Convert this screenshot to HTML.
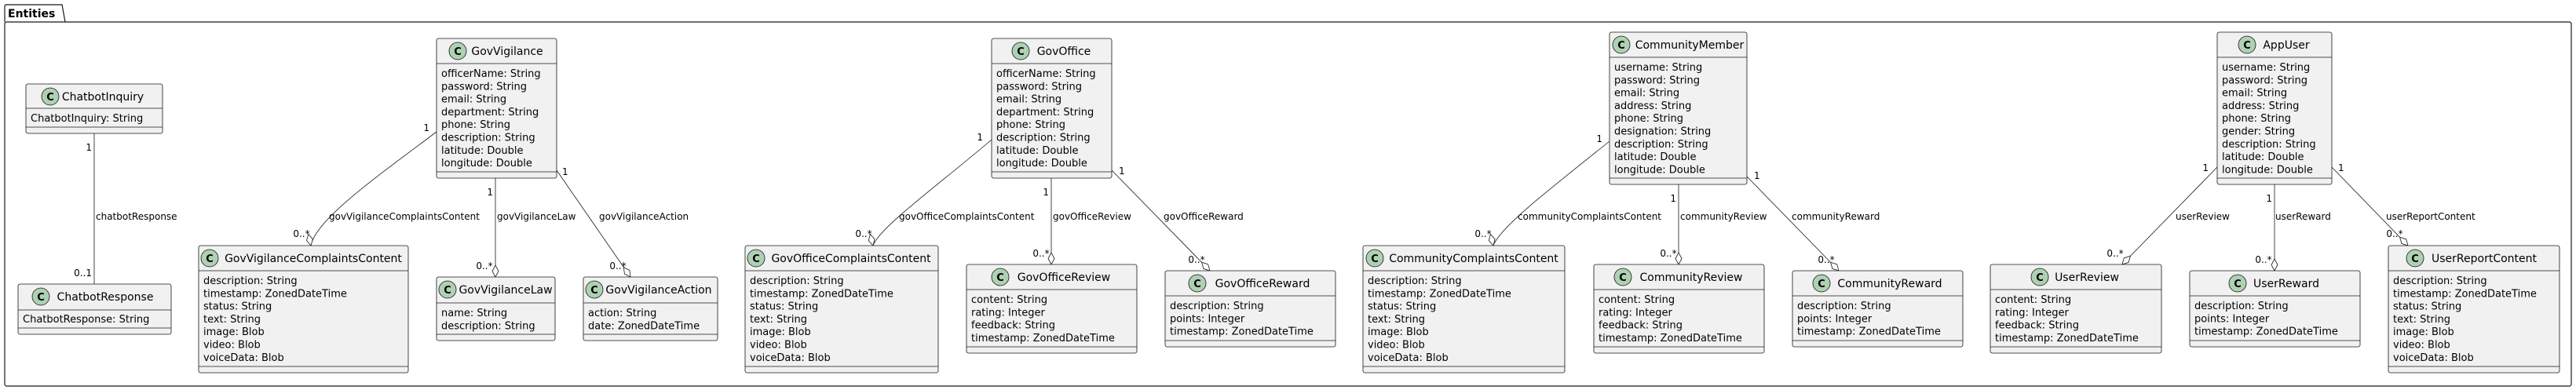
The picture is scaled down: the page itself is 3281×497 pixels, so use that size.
<!DOCTYPE html>
<html><head><meta charset="utf-8"><style>
html,body{margin:0;padding:0;background:#fff;}
svg{display:block;}
.box{fill:#F1F1F1;stroke:#181818;stroke-width:0.8;}
.ln{stroke:#181818;stroke-width:0.8;fill:none;}
.cn{font-family:"DejaVu Sans","Liberation Sans",sans-serif;font-size:14px;fill:#000;text-anchor:middle;}
.at{font-family:"DejaVu Sans","Liberation Sans",sans-serif;font-size:13px;fill:#000;}
.lb{font-family:"DejaVu Sans","Liberation Sans",sans-serif;font-size:12px;fill:#000;}
.ci{fill:#ADD1B2;stroke:#181818;stroke-width:0.8;}
.cc{font-family:"DejaVu Sans","Liberation Sans",sans-serif;font-size:13px;font-weight:bold;fill:#000;text-anchor:middle;}
.dm{fill:#fff;stroke:#181818;stroke-width:0.8;}
</style></head><body>
<svg width="3281" height="497" viewBox="0 0 3281 497" xmlns="http://www.w3.org/2000/svg">
<!-- package -->
<path d="M6,28 L6,8 Q6,6 8,6 L79,6 L83,28" fill="none" stroke="#181818" stroke-width="1.2"/>
<rect x="6" y="28" width="3269" height="464" rx="2.5" fill="none" stroke="#181818" stroke-width="1.2"/>
<text x="10" y="22" font-family="DejaVu Sans,Liberation Sans,sans-serif" font-size="14" font-weight="bold">Entities</text>

<!-- edges -->
<line class="ln" x1="120" y1="170" x2="120" y2="362"/>
<text class="lb" x="117" y="192" text-anchor="end">1</text>
<text class="lb" x="122" y="280">chatbotResponse</text>
<text class="lb" x="117" y="352" text-anchor="end">0..1</text>

<path class="ln" d="M556,168 C480,225 402,280 396,313"/>
<text class="lb" x="547" y="167" text-anchor="end">1</text>
<text class="lb" x="419" y="280">govVigilanceComplaintsContent</text>
<text class="lb" x="384" y="302" text-anchor="middle">0..*</text>
<line class="ln" x1="631" y1="227" x2="631" y2="353"/>
<text class="lb" x="628" y="249" text-anchor="end">1</text>
<text class="lb" x="633" y="280">govVigilanceLaw</text>
<text class="lb" x="617" y="343" text-anchor="middle">0..*</text>
<line class="ln" x1="709" y1="217" x2="803" y2="353"/>
<text class="lb" x="716" y="223">1</text>
<text class="lb" x="763" y="280">govVigilanceAction</text>
<text class="lb" x="787" y="343" text-anchor="middle">0..*</text>

<path class="ln" d="M1263,178 C1190,240 1120,290 1112,313"/>
<text class="lb" x="1252" y="179" text-anchor="end">1</text>
<text class="lb" x="1145" y="280">govOfficeComplaintsContent</text>
<text class="lb" x="1100" y="302" text-anchor="middle">0..*</text>
<line class="ln" x1="1339" y1="227" x2="1339" y2="337"/>
<text class="lb" x="1336" y="249" text-anchor="end">1</text>
<text class="lb" x="1341" y="280">govOfficeReview</text>
<text class="lb" x="1326" y="327" text-anchor="middle">0..*</text>
<line class="ln" x1="1416" y1="217" x2="1541" y2="345"/>
<text class="lb" x="1425" y="222">1</text>
<text class="lb" x="1482" y="280">govOfficeReward</text>
<text class="lb" x="1524" y="335" text-anchor="middle">0..*</text>

<path class="ln" d="M2050,180 C1975,240 1910,290 1902,313"/>
<text class="lb" x="2041" y="181" text-anchor="end">1</text>
<text class="lb" x="1933" y="280">communityComplaintsContent</text>
<text class="lb" x="1889" y="302" text-anchor="middle">0..*</text>
<line class="ln" x1="2138" y1="235" x2="2138" y2="337"/>
<text class="lb" x="2135" y="257" text-anchor="end">1</text>
<text class="lb" x="2140" y="280">communityReview</text>
<text class="lb" x="2125" y="327" text-anchor="middle">0..*</text>
<line class="ln" x1="2225" y1="225" x2="2342" y2="345"/>
<text class="lb" x="2234" y="228">1</text>
<text class="lb" x="2282" y="280">communityReward</text>
<text class="lb" x="2326" y="335" text-anchor="middle">0..*</text>

<line class="ln" x1="2824" y1="213" x2="2703" y2="337"/>
<text class="lb" x="2813" y="218" text-anchor="end">1</text>
<text class="lb" x="2771" y="280">userReview</text>
<text class="lb" x="2694" y="327" text-anchor="middle">0..*</text>
<line class="ln" x1="2897" y1="235" x2="2897" y2="345"/>
<text class="lb" x="2894" y="257" text-anchor="end">1</text>
<text class="lb" x="2898" y="280">userReward</text>
<text class="lb" x="2883" y="335" text-anchor="middle">0..*</text>
<line class="ln" x1="2970" y1="213" x2="3067" y2="313"/>
<text class="lb" x="2978" y="218">1</text>
<text class="lb" x="3039" y="280">userReportContent</text>
<text class="lb" x="3050" y="302" text-anchor="middle">0..*</text>

<!-- diamonds -->
<g class="dm">
<polygon transform="translate(396,313) rotate(-12)" points="0,0 -4,-7.5 0,-15 4,-7.5"/>
<polygon transform="translate(631,353)" points="0,0 -4,-7.5 0,-15 4,-7.5"/>
<polygon transform="translate(803,353) rotate(-35)" points="0,0 -4,-7.5 0,-15 4,-7.5"/>
<polygon transform="translate(1112,313) rotate(-14)" points="0,0 -4,-7.5 0,-15 4,-7.5"/>
<polygon transform="translate(1339,337)" points="0,0 -4,-7.5 0,-15 4,-7.5"/>
<polygon transform="translate(1541,345) rotate(-44)" points="0,0 -4,-7.5 0,-15 4,-7.5"/>
<polygon transform="translate(1902,313) rotate(-14)" points="0,0 -4,-7.5 0,-15 4,-7.5"/>
<polygon transform="translate(2138,337)" points="0,0 -4,-7.5 0,-15 4,-7.5"/>
<polygon transform="translate(2342,345) rotate(-44)" points="0,0 -4,-7.5 0,-15 4,-7.5"/>
<polygon transform="translate(2703,337) rotate(44)" points="0,0 -4,-7.5 0,-15 4,-7.5"/>
<polygon transform="translate(2897,345)" points="0,0 -4,-7.5 0,-15 4,-7.5"/>
<polygon transform="translate(3067,313) rotate(-44)" points="0,0 -4,-7.5 0,-15 4,-7.5"/>
</g>

<!-- classes -->
<!-- ChatbotInquiry -->
<rect class="box" x="33" y="107" width="174" height="63" rx="2.5"/>
<line class="ln" x1="33" y1="138" x2="207" y2="138"/><line class="ln" x1="33" y1="162" x2="207" y2="162"/>
<circle class="ci" cx="64" cy="123" r="11"/><text class="cc" x="64" y="128">C</text>
<text class="cn" x="131" y="128">ChatbotInquiry</text>
<text class="at" x="39" y="155">ChatbotInquiry: String</text>

<!-- ChatbotResponse -->
<rect class="box" x="23" y="362" width="195" height="64" rx="2.5"/>
<line class="ln" x1="23" y1="395" x2="218" y2="395"/><line class="ln" x1="23" y1="418" x2="218" y2="418"/>
<circle class="ci" cx="52" cy="378" r="11"/><text class="cc" x="52" y="383">C</text>
<text class="cn" x="134" y="383">ChatbotResponse</text>
<text class="at" x="29" y="411">ChatbotResponse: String</text>

<!-- GovVigilance -->
<rect class="box" x="556" y="49" width="153" height="178" rx="2.5"/>
<line class="ln" x1="556" y1="81" x2="709" y2="81"/><line class="ln" x1="556" y1="219" x2="709" y2="219"/>
<circle class="ci" cx="583" cy="65" r="11"/><text class="cc" x="583" y="70">C</text>
<text class="cn" x="646" y="70">GovVigilance</text>
<text class="at" x="562" y="98">officerName: String</text>
<text class="at" x="562" y="114.3">password: String</text>
<text class="at" x="562" y="130.6">email: String</text>
<text class="at" x="562" y="146.9">department: String</text>
<text class="at" x="562" y="163.2">phone: String</text>
<text class="at" x="562" y="179.5">description: String</text>
<text class="at" x="562" y="195.8">latitude: Double</text>
<text class="at" x="562" y="212.1">longitude: Double</text>

<!-- GovVigilanceComplaintsContent -->
<rect class="box" x="253" y="313" width="267" height="162" rx="2.5"/>
<line class="ln" x1="253" y1="345" x2="520" y2="345"/><line class="ln" x1="253" y1="467" x2="520" y2="467"/>
<circle class="ci" cx="267" cy="329" r="11"/><text class="cc" x="267" y="334">C</text>
<text class="cn" x="399" y="334">GovVigilanceComplaintsContent</text>
<text class="at" x="259" y="362">description: String</text>
<text class="at" x="259" y="378.3">timestamp: ZonedDateTime</text>
<text class="at" x="259" y="394.6">status: String</text>
<text class="at" x="259" y="410.9">text: String</text>
<text class="at" x="259" y="427.2">image: Blob</text>
<text class="at" x="259" y="443.5">video: Blob</text>
<text class="at" x="259" y="459.8">voiceData: Blob</text>

<!-- GovVigilanceLaw -->
<rect class="box" x="556" y="353" width="151" height="81" rx="2.5"/>
<line class="ln" x1="556" y1="386" x2="707" y2="386"/><line class="ln" x1="556" y1="426" x2="707" y2="426"/>
<circle class="ci" cx="570" cy="369" r="11"/><text class="cc" x="570" y="374">C</text>
<text class="cn" x="644" y="374">GovVigilanceLaw</text>
<text class="at" x="562" y="403">name: String</text>
<text class="at" x="562" y="419.3">description: String</text>

<!-- GovVigilanceAction -->
<rect class="box" x="743" y="353" width="171" height="81" rx="2.5"/>
<line class="ln" x1="743" y1="386" x2="914" y2="386"/><line class="ln" x1="743" y1="426" x2="914" y2="426"/>
<circle class="ci" cx="757" cy="369" r="11"/><text class="cc" x="757" y="374">C</text>
<text class="cn" x="839" y="374">GovVigilanceAction</text>
<text class="at" x="749" y="403">action: String</text>
<text class="at" x="749" y="419.3">date: ZonedDateTime</text>

<!-- GovOffice -->
<rect class="box" x="1263" y="49" width="153" height="178" rx="2.5"/>
<line class="ln" x1="1263" y1="81" x2="1416" y2="81"/><line class="ln" x1="1263" y1="219" x2="1416" y2="219"/>
<circle class="ci" cx="1300" cy="65" r="11"/><text class="cc" x="1300" y="70">C</text>
<text class="cn" x="1355" y="70">GovOffice</text>
<text class="at" x="1269" y="98">officerName: String</text>
<text class="at" x="1269" y="114.3">password: String</text>
<text class="at" x="1269" y="130.6">email: String</text>
<text class="at" x="1269" y="146.9">department: String</text>
<text class="at" x="1269" y="163.2">phone: String</text>
<text class="at" x="1269" y="179.5">description: String</text>
<text class="at" x="1269" y="195.8">latitude: Double</text>
<text class="at" x="1269" y="212.1">longitude: Double</text>

<!-- GovOfficeComplaintsContent -->
<rect class="box" x="949" y="313" width="246" height="162" rx="2.5"/>
<line class="ln" x1="949" y1="345" x2="1195" y2="345"/><line class="ln" x1="949" y1="467" x2="1195" y2="467"/>
<circle class="ci" cx="963" cy="329" r="11"/><text class="cc" x="963" y="334">C</text>
<text class="cn" x="1084" y="334">GovOfficeComplaintsContent</text>
<text class="at" x="955" y="362">description: String</text>
<text class="at" x="955" y="378.3">timestamp: ZonedDateTime</text>
<text class="at" x="955" y="394.6">status: String</text>
<text class="at" x="955" y="410.9">text: String</text>
<text class="at" x="955" y="427.2">image: Blob</text>
<text class="at" x="955" y="443.5">video: Blob</text>
<text class="at" x="955" y="459.8">voiceData: Blob</text>

<!-- GovOfficeReview -->
<rect class="box" x="1231" y="337" width="217" height="113" rx="2.5"/>
<line class="ln" x1="1231" y1="369" x2="1448" y2="369"/><line class="ln" x1="1231" y1="442" x2="1448" y2="442"/>
<circle class="ci" cx="1274" cy="353" r="11"/><text class="cc" x="1274" y="358">C</text>
<text class="cn" x="1355" y="358">GovOfficeReview</text>
<text class="at" x="1237" y="386">content: String</text>
<text class="at" x="1237" y="402.3">rating: Integer</text>
<text class="at" x="1237" y="418.6">feedback: String</text>
<text class="at" x="1237" y="434.9">timestamp: ZonedDateTime</text>

<!-- GovOfficeReward -->
<rect class="box" x="1484" y="345" width="217" height="97" rx="2.5"/>
<line class="ln" x1="1484" y1="377" x2="1701" y2="377"/><line class="ln" x1="1484" y1="434" x2="1701" y2="434"/>
<circle class="ci" cx="1525" cy="361" r="11"/><text class="cc" x="1525" y="366">C</text>
<text class="cn" x="1608" y="366">GovOfficeReward</text>
<text class="at" x="1490" y="394">description: String</text>
<text class="at" x="1490" y="410.3">points: Integer</text>
<text class="at" x="1490" y="426.6">timestamp: ZonedDateTime</text>

<!-- CommunityMember -->
<rect class="box" x="2050" y="41" width="175" height="194" rx="2.5"/>
<line class="ln" x1="2050" y1="73" x2="2225" y2="73"/><line class="ln" x1="2050" y1="227" x2="2225" y2="227"/>
<circle class="ci" cx="2065" cy="57" r="11"/><text class="cc" x="2065" y="62">C</text>
<text class="cn" x="2152" y="62">CommunityMember</text>
<text class="at" x="2056" y="90">username: String</text>
<text class="at" x="2056" y="106.3">password: String</text>
<text class="at" x="2056" y="122.6">email: String</text>
<text class="at" x="2056" y="138.9">address: String</text>
<text class="at" x="2056" y="155.2">phone: String</text>
<text class="at" x="2056" y="171.5">designation: String</text>
<text class="at" x="2056" y="187.8">description: String</text>
<text class="at" x="2056" y="204.1">latitude: Double</text>
<text class="at" x="2056" y="220.4">longitude: Double</text>

<!-- CommunityComplaintsContent -->
<rect class="box" x="1736" y="313" width="257" height="162" rx="2.5"/>
<line class="ln" x1="1736" y1="345" x2="1993" y2="345"/><line class="ln" x1="1736" y1="467" x2="1993" y2="467"/>
<circle class="ci" cx="1751" cy="329" r="11"/><text class="cc" x="1751" y="334">C</text>
<text class="cn" x="1877" y="334">CommunityComplaintsContent</text>
<text class="at" x="1742" y="362">description: String</text>
<text class="at" x="1742" y="378.3">timestamp: ZonedDateTime</text>
<text class="at" x="1742" y="394.6">status: String</text>
<text class="at" x="1742" y="410.9">text: String</text>
<text class="at" x="1742" y="427.2">image: Blob</text>
<text class="at" x="1742" y="443.5">video: Blob</text>
<text class="at" x="1742" y="459.8">voiceData: Blob</text>

<!-- CommunityReview -->
<rect class="box" x="2030" y="337" width="217" height="113" rx="2.5"/>
<line class="ln" x1="2030" y1="369" x2="2247" y2="369"/><line class="ln" x1="2030" y1="442" x2="2247" y2="442"/>
<circle class="ci" cx="2067" cy="353" r="11"/><text class="cc" x="2067" y="358">C</text>
<text class="cn" x="2154" y="358">CommunityReview</text>
<text class="at" x="2036" y="386">content: String</text>
<text class="at" x="2036" y="402.3">rating: Integer</text>
<text class="at" x="2036" y="418.6">feedback: String</text>
<text class="at" x="2036" y="434.9">timestamp: ZonedDateTime</text>

<!-- CommunityReward -->
<rect class="box" x="2283" y="345" width="217" height="97" rx="2.5"/>
<line class="ln" x1="2283" y1="377" x2="2500" y2="377"/><line class="ln" x1="2283" y1="434" x2="2500" y2="434"/>
<circle class="ci" cx="2320" cy="361" r="11"/><text class="cc" x="2320" y="366">C</text>
<text class="cn" x="2407" y="366">CommunityReward</text>
<text class="at" x="2289" y="394">description: String</text>
<text class="at" x="2289" y="410.3">points: Integer</text>
<text class="at" x="2289" y="426.6">timestamp: ZonedDateTime</text>

<!-- AppUser -->
<rect class="box" x="2824" y="41" width="146" height="194" rx="2.5"/>
<line class="ln" x1="2824" y1="73" x2="2970" y2="73"/><line class="ln" x1="2824" y1="227" x2="2970" y2="227"/>
<circle class="ci" cx="2862" cy="57" r="11"/><text class="cc" x="2862" y="62">C</text>
<text class="cn" x="2912" y="62">AppUser</text>
<text class="at" x="2830" y="90">username: String</text>
<text class="at" x="2830" y="106.3">password: String</text>
<text class="at" x="2830" y="122.6">email: String</text>
<text class="at" x="2830" y="138.9">address: String</text>
<text class="at" x="2830" y="155.2">phone: String</text>
<text class="at" x="2830" y="171.5">gender: String</text>
<text class="at" x="2830" y="187.8">description: String</text>
<text class="at" x="2830" y="204.1">latitude: Double</text>
<text class="at" x="2830" y="220.4">longitude: Double</text>

<!-- UserReview -->
<rect class="box" x="2535" y="337" width="218" height="113" rx="2.5"/>
<line class="ln" x1="2535" y1="369" x2="2753" y2="369"/><line class="ln" x1="2535" y1="442" x2="2753" y2="442"/>
<circle class="ci" cx="2598" cy="353" r="11"/><text class="cc" x="2598" y="358">C</text>
<text class="cn" x="2658" y="358">UserReview</text>
<text class="at" x="2541" y="386">content: String</text>
<text class="at" x="2541" y="402.3">rating: Integer</text>
<text class="at" x="2541" y="418.6">feedback: String</text>
<text class="at" x="2541" y="434.9">timestamp: ZonedDateTime</text>

<!-- UserReward -->
<rect class="box" x="2789" y="345" width="217" height="97" rx="2.5"/>
<line class="ln" x1="2789" y1="377" x2="3006" y2="377"/><line class="ln" x1="2789" y1="434" x2="3006" y2="434"/>
<circle class="ci" cx="2850" cy="361" r="11"/><text class="cc" x="2850" y="366">C</text>
<text class="cn" x="2912" y="366">UserReward</text>
<text class="at" x="2795" y="394">description: String</text>
<text class="at" x="2795" y="410.3">points: Integer</text>
<text class="at" x="2795" y="426.6">timestamp: ZonedDateTime</text>

<!-- UserReportContent -->
<rect class="box" x="3042" y="313" width="218" height="162" rx="2.5"/>
<line class="ln" x1="3042" y1="345" x2="3260" y2="345"/><line class="ln" x1="3042" y1="467" x2="3260" y2="467"/>
<circle class="ci" cx="3076" cy="329" r="11"/><text class="cc" x="3076" y="334">C</text>
<text class="cn" x="3164" y="334">UserReportContent</text>
<text class="at" x="3048" y="362">description: String</text>
<text class="at" x="3048" y="378.3">timestamp: ZonedDateTime</text>
<text class="at" x="3048" y="394.6">status: String</text>
<text class="at" x="3048" y="410.9">text: String</text>
<text class="at" x="3048" y="427.2">image: Blob</text>
<text class="at" x="3048" y="443.5">video: Blob</text>
<text class="at" x="3048" y="459.8">voiceData: Blob</text>
</svg>
</body></html>
